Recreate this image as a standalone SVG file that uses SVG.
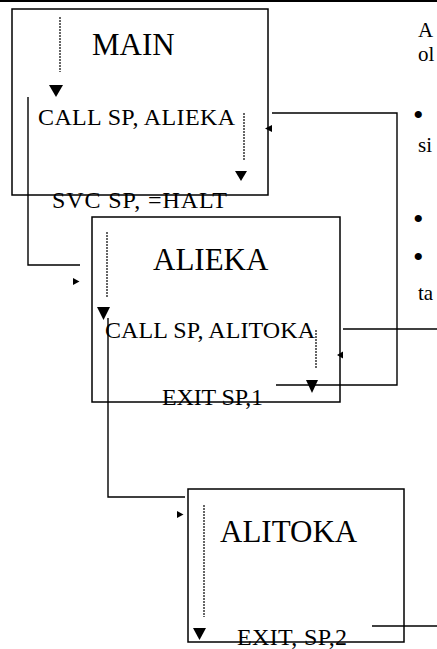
<svg xmlns="http://www.w3.org/2000/svg" width="437" height="649" viewBox="0 0 437 649">
<style>
.box{fill:none;stroke:#000;stroke-width:1.5}
.ln{fill:none;stroke:#000;stroke-width:1.4}
.dash{fill:none;stroke:#000;stroke-width:1.2;stroke-dasharray:2,1}
.ah{fill:#000}
text{font-family:"Liberation Serif","Times New Roman",serif;fill:#000}
.t{font-size:31px}
.s{font-size:24px}
.r{font-size:21px}
.b{font-size:30px}
</style>
<rect width="437" height="649" fill="#fff"/>
<line x1="0" y1="1" x2="437" y2="1" stroke="#000" stroke-width="2"/>
<g id="connectors">
<polyline class="ln" points="28,97 28,265 80,265"/>
<polyline class="ln" points="272,113 397,113 397,385 276,385"/>
<polyline class="ln" points="108,318 108,497 185,497"/>
<line class="ln" x1="343" y1="329" x2="437" y2="329"/>
<line class="ln" x1="372" y1="626" x2="437" y2="626"/>
<polygon class="ah" points="73,278 79.5,281.5 73,285"/>
<polygon class="ah" points="177,511 183.5,514.5 177,518"/>
<polygon class="ah" points="265,128.5 272,125 272,132"/>
<polygon class="ah" points="337,355 343,351.5 343,358.5"/>
</g>
<g id="main">
<rect class="box" x="12" y="9" width="256" height="186"/>
<line class="dash" x1="60" y1="17" x2="60" y2="72"/>
<polygon class="ah" points="49,85 63,85 56,97"/>
<text class="t" x="92" y="55">MAIN</text>
<text class="s" x="38" y="125" textLength="197">CALL SP, ALIEKA</text>
<line class="dash" x1="244" y1="113" x2="244" y2="160"/>
<polygon class="ah" points="235,171 247,171 241,181"/>
<text class="s" x="52" y="208" textLength="175">SVC SP, =HALT</text>
</g>
<g id="alieka">
<rect class="box" x="92" y="217" width="248" height="185"/>
<line class="dash" x1="107" y1="232" x2="107" y2="297"/>
<polygon class="ah" points="97,307 110,307 103.5,320"/>
<text class="t" x="153" y="270">ALIEKA</text>
<text class="s" x="105" y="338" textLength="210">CALL SP, ALITOKA</text>
<line class="dash" x1="316" y1="330" x2="316" y2="368"/>
<polygon class="ah" points="306,380 318,380 312,393"/>
<text class="s" x="162" y="405" textLength="101">EXIT SP,1</text>
</g>
<g id="alitoka">
<rect class="box" x="188" y="489" width="216" height="153"/>
<line class="dash" x1="204" y1="505" x2="204" y2="617"/>
<polygon class="ah" points="193,628 206,628 199.5,640"/>
<text class="t" x="220" y="542">ALITOKA</text>
<text class="s" x="237" y="645" textLength="110">EXIT, SP,2</text>
</g>
<g id="sidetext">
<text class="r" x="418" y="37">A</text>
<text class="r" x="418" y="61">ol</text>
<text class="b" x="413" y="125">•</text>
<text class="r" x="418" y="152">si</text>
<text class="b" x="413" y="229">•</text>
<text class="b" x="413" y="267">•</text>
<text class="r" x="418" y="300">ta</text>
</g>
</svg>
